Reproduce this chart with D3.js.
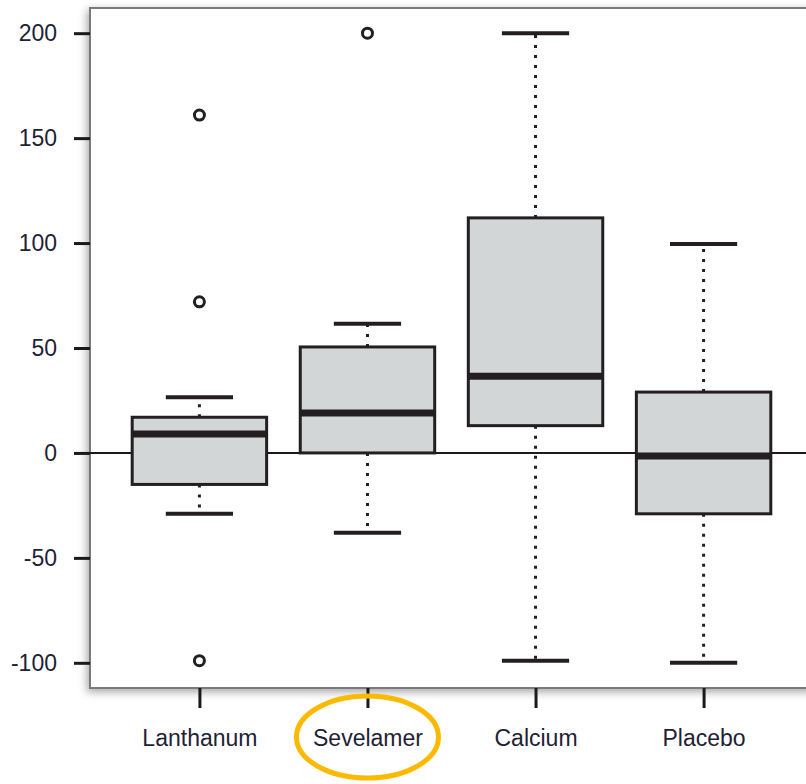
<!DOCTYPE html>
<html>
<head>
<meta charset="utf-8">
<script src="https://cdn.jsdelivr.net/npm/d3@7"></script>
<style>
  body { margin: 0; background: #fff; }
  svg { display: block; font-family: "Liberation Sans", Arial, sans-serif; }
</style>
</head>
<body>
<div id="chart"></div>
<script>
// groupes et statistiques des boîtes
const groups = ["Lanthanum", "Sevelamer", "Calcium", "Placebo"];
const q1 = [-15, 0, 13, -29];
const medians = [9, 19, 36.5, -1.5];
const q3 = [17, 50.5, 112, 29];
const whiskerLow = [-29, -38, -99, -100];
const whiskerHigh = [26.5, 61.5, 200, 99.5];
const outliers = [[161, 72, -99], [200], [], []];
const yTicks = [-100, -50, 0, 50, 100, 150, 200];

const width = 806, height = 784;
const plot = { left: 90, top: 8, right: 816, bottom: 688 };

const svg = d3.select("#chart").append("svg")
    .attr("width", width)
    .attr("height", height);

// ombre du cadre
const defs = svg.append("defs");
const f = defs.append("filter").attr("id", "shadow")
    .attr("x", "-5%").attr("y", "-5%").attr("width", "110%").attr("height", "110%");
f.append("feDropShadow").attr("dx", -2).attr("dy", 3).attr("stdDeviation", 4)
    .attr("flood-color", "#000").attr("flood-opacity", 0.35);

// échelles (style R : étendue de 4 %)
const yScale = d3.scaleLinear()
    .domain([-112, 212])
    .range([plot.bottom, plot.top]);

const xScale = d3.scaleLinear()
    .domain([0.34, 4.66])
    .range([plot.left - 1.5, plot.right - 1.5]);

const xPos = (i) => xScale(i + 1);
const boxW = xScale(1.8) - xScale(1);

svg.append("rect")
    .attr("x", plot.left).attr("y", plot.top)
    .attr("width", plot.right - plot.left).attr("height", plot.bottom - plot.top)
    .attr("fill", "#fff")
    .attr("stroke", "#7a7a7a")
    .attr("stroke-width", 2)
    .attr("filter", "url(#shadow)");

// axe Y
const yAxis = d3.axisLeft(yScale).tickValues(yTicks).tickFormat((d) => String(d)).tickSize(16).tickPadding(17);
const gy = svg.append("g")
    .attr("transform", `translate(${plot.left},0)`)
    .call(yAxis);
gy.select(".domain").remove();
gy.selectAll(".tick line").attr("stroke", "#1a1a1a").attr("stroke-width", 3);
gy.selectAll(".tick text").attr("font-size", 23).attr("fill", "#1f2235");

// axe X
const gx = svg.append("g")
    .attr("transform", `translate(0,${plot.bottom})`)
    .call(d3.axisBottom(xScale).tickValues([1, 2, 3, 4]).tickFormat((d) => groups[d - 1]).tickSize(20).tickPadding(22));
gx.select(".domain").remove();
gx.selectAll(".tick line").attr("stroke", "#1a1a1a").attr("stroke-width", 3);
gx.selectAll(".tick text").attr("font-size", 23).attr("fill", "#1f2235");

// ligne zéro
svg.append("line")
    .attr("x1", plot.left).attr("x2", width)
    .attr("y1", yScale(0)).attr("y2", yScale(0))
    .attr("stroke", "#1a1a1a").attr("stroke-width", 2);

const ink = "#231f20";
const g = svg.append("g");

groups.forEach((name, i) => {
    const cx = xPos(i);
    // moustaches pointillées
    g.append("line")
        .attr("x1", cx).attr("x2", cx)
        .attr("y1", yScale(q3[i])).attr("y2", yScale(whiskerHigh[i]))
        .attr("stroke", ink).attr("stroke-width", 3).attr("stroke-dasharray", "3,7");
    g.append("line")
        .attr("x1", cx).attr("x2", cx)
        .attr("y1", yScale(q1[i])).attr("y2", yScale(whiskerLow[i]))
        .attr("stroke", ink).attr("stroke-width", 3).attr("stroke-dasharray", "3,7");
    // embouts
    [whiskerHigh[i], whiskerLow[i]].forEach((v) => {
        g.append("line")
            .attr("x1", cx - boxW / 4).attr("x2", cx + boxW / 4)
            .attr("y1", yScale(v)).attr("y2", yScale(v))
            .attr("stroke", ink).attr("stroke-width", 4);
    });
    // boîte
    g.append("rect")
        .attr("x", cx - boxW / 2)
        .attr("y", yScale(q3[i]))
        .attr("width", boxW)
        .attr("height", yScale(q1[i]) - yScale(q3[i]))
        .attr("fill", "#d3d6d7")
        .attr("stroke", ink).attr("stroke-width", 3);
    // médiane
    g.append("line")
        .attr("x1", cx - boxW / 2).attr("x2", cx + boxW / 2)
        .attr("y1", yScale(medians[i])).attr("y2", yScale(medians[i]))
        .attr("stroke", ink).attr("stroke-width", 7);
    // valeurs extrêmes
    outliers[i].forEach((v) => {
        g.append("circle")
            .attr("cx", cx).attr("cy", yScale(v)).attr("r", 5)
            .attr("fill", "none").attr("stroke", ink).attr("stroke-width", 3);
    });
});

// ellipse orange autour de Sevelamer
svg.append("ellipse")
    .attr("cx", xPos(1)).attr("cy", 737)
    .attr("rx", 71).attr("ry", 41)
    .attr("fill", "none")
    .attr("stroke", "#fbb900")
    .attr("stroke-width", 5);
</script>
</body>
</html>
